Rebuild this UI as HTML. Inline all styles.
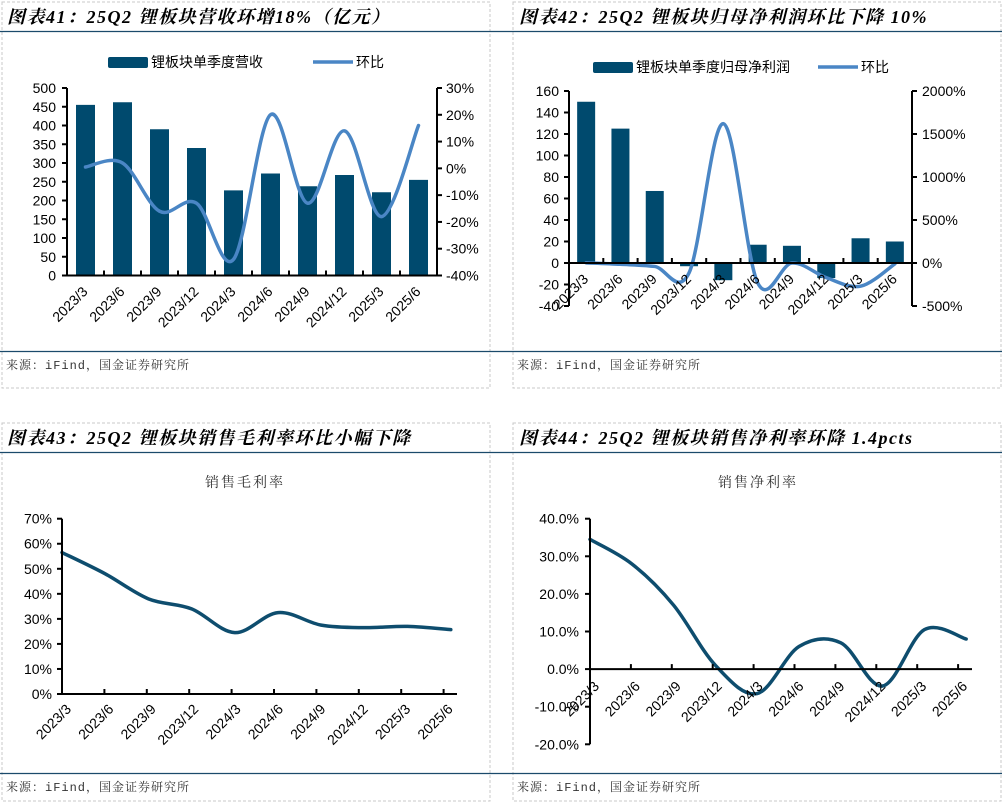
<!DOCTYPE html>
<html><head><meta charset="utf-8">
<style>
html,body{margin:0;padding:0;background:#fff;}
svg{display:block;}
.ttl{font-family:"Liberation Serif","Noto Serif CJK SC",serif;font-weight:bold;font-style:italic;font-size:18px;letter-spacing:1.5px;fill:#000;}
.src{font-family:"Liberation Mono","Noto Serif CJK SC",monospace;font-size:12px;fill:#333;letter-spacing:1px;}
.tick{font-family:"Liberation Sans","Noto Sans CJK SC",sans-serif;font-size:14px;fill:#000;}
.leg{font-family:"Liberation Sans","Noto Sans CJK SC",sans-serif;font-size:14px;fill:#000;}
.sub{font-family:"Liberation Serif","Noto Serif CJK SC",serif;font-size:14px;fill:#333;letter-spacing:2px;}
</style></head>
<body>
<svg id="root" width="1002" height="803" viewBox="0 0 1002 803" xmlns="http://www.w3.org/2000/svg">
  <g fill="none" stroke="#c8c8c8" stroke-dasharray="3,2">
    <rect x="2" y="2" width="488" height="386"/>
    <rect x="513" y="2" width="488" height="386"/>
    <rect x="2" y="423" width="488" height="378"/>
    <rect x="513" y="423" width="488" height="378"/>
  </g>
  <g stroke="#1b4a6b" stroke-width="1.3">
    <line x1="0" y1="31.5" x2="1002" y2="31.5"/>
    <line x1="0" y1="351.5" x2="1002" y2="351.5"/>
    <line x1="0" y1="452.5" x2="1002" y2="452.5"/>
    <line x1="0" y1="773.5" x2="1002" y2="773.5"/>
  </g>
  <text class="ttl" x="7" y="23">图表41：25Q2 锂板块营收环增18%（亿元）</text>
  <text class="ttl" x="519" y="23">图表42：25Q2 锂板块归母净利润环比下降 10%</text>
  <text class="ttl" x="7" y="444">图表43：25Q2 锂板块销售毛利率环比小幅下降</text>
  <text class="ttl" x="519" y="444">图表44：25Q2 锂板块销售净利率环降 1.4pcts</text>
  <text class="src" x="6" y="369">来源：iFind，国金证券研究所</text>
  <text class="src" x="517" y="369">来源：iFind，国金证券研究所</text>
  <text class="src" x="6" y="791">来源：iFind，国金证券研究所</text>
  <text class="src" x="517" y="791">来源：iFind，国金证券研究所</text>
  <text class="sub" x="245" y="487" text-anchor="middle">销售毛利率</text>
  <text class="sub" x="758" y="487" text-anchor="middle">销售净利率</text>
  <g id="c1"></g>
  <g id="c2"></g>
  <g id="c3"></g>
  <g id="c4"></g>
</svg>
<script>
const categories = ["2023/3","2023/6","2023/9","2023/12","2024/3","2024/6","2024/9","2024/12","2025/3","2025/6"];
const revenue = [455,462,390,340,227,272,238,268,222,255];
const revenueQoQ = [0.5,2,-16,-13,-34,20,-13,14,-18,16];
const revTicks = [0,50,100,150,200,250,300,350,400,450,500];
const revPctTicks = [-40,-30,-20,-10,0,10,20,30];
const netProfit = [150,125,67,-3,-16,17,16,-14,23,20];
const netProfitQoQ = [2,-15,-40,-115,1620,-230,0,-170,-270,-10];
const npTicks = [-40,-20,0,20,40,60,80,100,120,140,160];
const npPctTicks = [-500,0,500,1000,1500,2000];
const grossMargin = [56.5,48,38,34,24.5,32.5,27.5,26.5,27,25.7];
const gmTicks = [0,10,20,30,40,50,60,70];
const netMargin = [34.5,28,17,1,-6.5,6,7,-4.5,10.5,8];
const nmTicks = [-20,-10,0,10,20,30,40];

const NS="http://www.w3.org/2000/svg";
function mk(parent,tag,attrs,txt){const e=document.createElementNS(NS,tag);for(const k in attrs)e.setAttribute(k,attrs[k]);if(txt!==undefined)e.textContent=txt;parent.appendChild(e);return e;}
function lin(d0,d1,r0,r1){return v=>r0+(v-d0)*(r1-r0)/(d1-d0);}
function smooth(pts){let d="M"+pts[0][0]+","+pts[0][1];for(let i=0;i<pts.length-1;i++){const p0=pts[Math.max(0,i-1)],p1=pts[i],p2=pts[i+1],p3=pts[Math.min(pts.length-1,i+2)];const c1=[p1[0]+(p2[0]-p0[0])/6,p1[1]+(p2[1]-p0[1])/6];const c2=[p2[0]-(p3[0]-p1[0])/6,p2[1]-(p3[1]-p1[1])/6];d+=" C"+c1[0]+","+c1[1]+" "+c2[0]+","+c2[1]+" "+p2[0]+","+p2[1];}return d;}
const BAR="#004a6e", LINE="#4a86c5", DLINE="#0e4d6e";

function xLabels(g,xs,axisY,dx,dy){
  categories.forEach((c,i)=>{
    const x=xs[i]+dx,y=axisY+dy;
    const t=mk(g,"text",{class:"tick","text-anchor":"end",transform:"translate("+x+","+y+") rotate(-45)"},c);
    
    
  });
}
function yAxisLeft(g,ticks,y,ax,fmt,lx){
  ticks.forEach(v=>{
    const tk=mk(g,"line",{x1:ax-5,x2:ax,y1:y(v),y2:y(v),stroke:"#000","stroke-width":2});
    
    
    const t=mk(g,"text",{class:"tick",x:lx,y:y(v)+5,"text-anchor":"end"},fmt(v));
    
    
  });
}
function yAxisRight(g,ticks,y,ax,fmt,lx){
  ticks.forEach(v=>{
    const tk=mk(g,"line",{x1:ax,x2:ax+5,y1:y(v),y2:y(v),stroke:"#000","stroke-width":2});
    
    
    const t=mk(g,"text",{class:"tick",x:lx,y:y(v)+5,"text-anchor":"start"},fmt(v));
    
    
  });
}
function legend(g,x,y,barText,lineX){
  const r=mk(g,"rect",{x:x,y:y-5,width:40,height:11,rx:2,fill:BAR});
  
  
  const t=mk(g,"text",{class:"leg",x:x+43,y:y+5},barText);
  
  
  const l=mk(g,"line",{x1:lineX,x2:lineX+40,y1:y,y2:y,stroke:LINE,"stroke-width":3.5});
  
  
  const t2=mk(g,"text",{class:"leg",x:lineX+43,y:y+5},"环比");
  
  
}

/* Chart 41 */
(function(){
  const g=document.getElementById("c1");
  const L=67,R=437,T=88,B=275.5,n=categories.length,band=(R-L)/n;
  const y=lin(0,500,B,T), y2=lin(-40,30,B,T);
  const xs=categories.map((c,i)=>L+band*(i+0.5));
  legend(g,108,62,"锂板块单季度营收",313);
  revenue.forEach((v,i)=>{
    const b=mk(g,"rect",{x:xs[i]-9.5,y:y(v),width:19,height:y(0)-y(v),fill:BAR});
    
    
  });
  const p=mk(g,"path",{d:smooth(revenueQoQ.map((v,i)=>[xs[i],y2(v)])),fill:"none",stroke:LINE,"stroke-width":3.5,"stroke-linecap":"round"});
  
  
  const ax=mk(g,"path",{d:"M"+L+","+T+" V"+B+" H"+R+" V"+T,fill:"none",stroke:"#000","stroke-width":2});
  
  
  for(let i=0;i<=n;i++){const tk=mk(g,"line",{x1:L+band*i,x2:L+band*i,y1:B,y2:B-5,stroke:"#000","stroke-width":2});
    
    }
  yAxisLeft(g,revTicks,y,L,v=>String(v),56);
  yAxisRight(g,revPctTicks,y2,R,v=>v+"%",446);
  xLabels(g,xs,B,3,17);
})();

/* Chart 42 */
(function(){
  const g=document.getElementById("c2");
  const L=569,R=912,T=91,B=306,n=categories.length,band=(R-L)/n;
  const y=lin(-40,160,B,T), y2=lin(-500,2000,B,T);
  const xs=categories.map((c,i)=>L+band*(i+0.5));
  legend(g,593,67,"锂板块单季度归母净利润",818);
  netProfit.forEach((v,i)=>{
    const top=Math.min(y(v),y(0)),h=Math.abs(y(0)-y(v));
    const b=mk(g,"rect",{x:xs[i]-9,y:top,width:18,height:h,fill:BAR});
    
    
  });
  const p=mk(g,"path",{d:smooth(netProfitQoQ.map((v,i)=>[xs[i],y2(v)])),fill:"none",stroke:LINE,"stroke-width":3.5,"stroke-linecap":"round"});
  
  
  const ax=mk(g,"path",{d:"M"+L+","+T+" V"+B+" M"+R+","+T+" V"+B+" M"+L+","+y(0)+" H"+R,fill:"none",stroke:"#000","stroke-width":2});
  
  
  for(let i=0;i<=n;i++){const tk=mk(g,"line",{x1:L+band*i,x2:L+band*i,y1:y(0),y2:y(0)-5,stroke:"#000","stroke-width":2});
    
    }
  yAxisLeft(g,npTicks,y,L,v=>String(v),559);
  yAxisRight(g,npPctTicks,y2,R,v=>v+"%",922);
  xLabels(g,xs,y(0),3,17);
})();

/* Chart 43 */
(function(){
  const g=document.getElementById("c3");
  const L=62,R=457,T=518.7,B=694,n=categories.length;
  const y=lin(0,70,B,T);
  const xs=categories.map((c,i)=>L+i*43.2);
  const p=mk(g,"path",{d:smooth(grossMargin.map((v,i)=>[xs[i],y(v)])),fill:"none",stroke:DLINE,"stroke-width":3.5,"stroke-linecap":"round"});
  
  
  const ax=mk(g,"path",{d:"M"+L+","+T+" V"+B+" H"+R,fill:"none",stroke:"#000","stroke-width":2});
  
  
  categories.forEach((c,i)=>{const tx=L+i*42.4;const tk=mk(g,"line",{x1:tx,x2:tx,y1:B,y2:B-5,stroke:"#000","stroke-width":2});
    
    });
  yAxisLeft(g,gmTicks,y,L,v=>v+"%",52);
  xLabels(g,categories.map((c,i)=>L+i*42.4),B,10,16);
})();

/* Chart 44 */
(function(){
  const g=document.getElementById("c4");
  const L=590,R=972,T=518.7,B=744.3,n=categories.length;
  const y=lin(-20,40,B,T);
  const xs=categories.map((c,i)=>L+i*41.8);
  const p=mk(g,"path",{d:smooth(netMargin.map((v,i)=>[xs[i],y(v)])),fill:"none",stroke:DLINE,"stroke-width":3.5,"stroke-linecap":"round"});
  
  
  const ax=mk(g,"path",{d:"M"+L+","+T+" V"+B+" M"+L+","+y(0)+" H"+R,fill:"none",stroke:"#000","stroke-width":2});
  
  
  categories.forEach((c,i)=>{const tx=L+i*40.9;const tk=mk(g,"line",{x1:tx,x2:tx,y1:y(0),y2:y(0)-5,stroke:"#000","stroke-width":2});
    
    });
  yAxisLeft(g,nmTicks,y,L,v=>v.toFixed(1)+"%",579);
  xLabels(g,categories.map((c,i)=>L+i*40.9),y(0),10,18);
})();
</script>
</body></html>
